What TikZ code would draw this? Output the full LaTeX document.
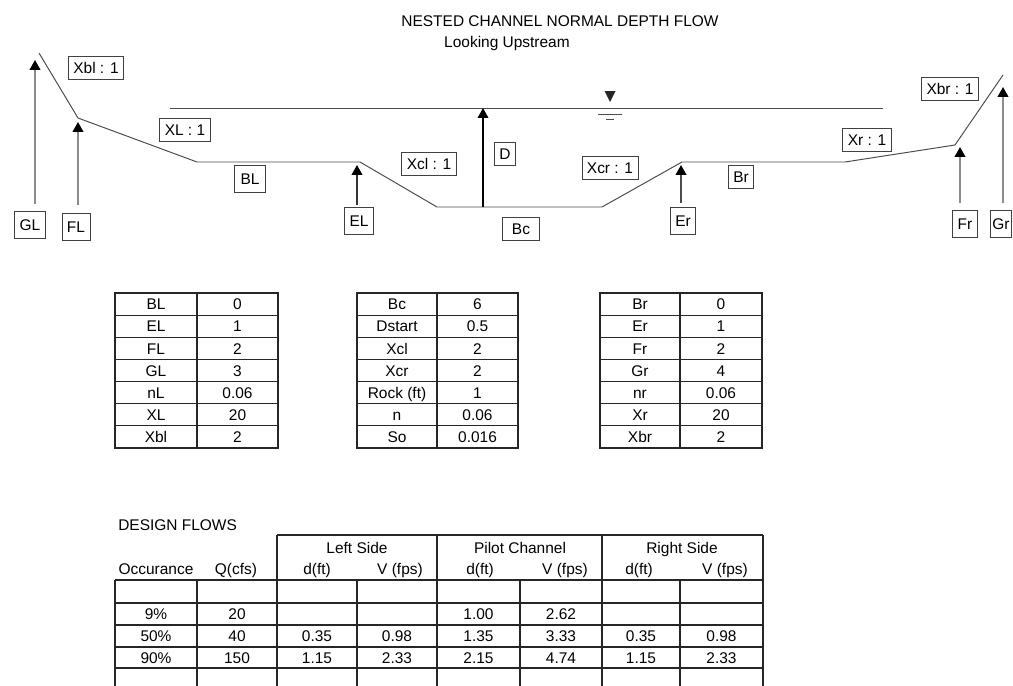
\documentclass[tikz,border=0pt]{standalone}
\usepackage{fontspec}
\setmainfont{Liberation Sans}
\usepackage{tikz}
\usetikzlibrary{arrows.meta}

\tikzset{
	txt/.style={inner sep=0pt, text height=8pt, text depth=0pt, font=\fontsize{11}{13}\selectfont},
	lbl/.style={txt, draw=black!75, line width=0.6pt, fill=white, inner xsep=3.5pt, minimum height=16pt},
	tag/.style={lbl, minimum height=19pt},
	ground/.style={draw=black!70, line width=0.7pt},
	up/.style={-{Triangle[width=7.5pt,length=7pt,color=black]}, line width=1.3pt},
	grid/.style={draw=black!85, line width=0.8pt}
}

\begin{document}
\begin{tikzpicture}[x=0.025cm, y=-0.025cm]
	\useasboundingbox (0,0) rectangle (1013,685);
	
	\node[txt] (title) at (560,21) {NESTED CHANNEL NORMAL DEPTH FLOW};
	\node[txt] (sub) at (507,42) {Looking Upstream};
	
	\coordinate (p1) at (39,53);
	\coordinate (p2) at (78,118);
	\coordinate (p3) at (197,162);
	\coordinate (p4) at (360,162);
	\coordinate (p5) at (437,207);
	\coordinate (p6) at (602,207);
	\coordinate (p7) at (682,162);
	\coordinate (p8) at (845,162);
	\coordinate (p9) at (955,145);
	\coordinate (p10) at (1003,75);
	\coordinate (w1) at (170,108);
	\coordinate (w2) at (883,108);
	
	\path[ground] (p1) -- (p2) -- (p3) -- (p4) -- (p5) -- (p6) -- (p7) -- (p8) -- (p9) -- (p10);
	\path[ground] (w1) -- (w2);
	
	\fill[black!85] (604.5,91) -- (615.5,91) -- (610,102) -- cycle;
	\draw[black!70] (598,114) -- (622,114);
	\draw[black!70] (606,119) -- (614,119);
	
	\node[lbl] (Xbl) at (96,68) {Xbl : 1};
	\node[lbl] (XL) at (185,130) {XL : 1};
	\node[lbl, minimum width=22pt, minimum height=19pt] (BL) at (250,179) {BL};
	\node[lbl] (Xcl) at (429,164) {Xcl : 1};
	\node[lbl] (D) at (505,154) {D};
	\node[lbl, minimum width=26pt] (Bc) at (521,229) {Bc};
	\node[lbl] (Xcr) at (610,168) {Xcr : 1};
	\node[lbl] (Br) at (741,177) {Br};
	\node[lbl] (Xr) at (867,140) {Xr : 1};
	\node[lbl] (Xbr) at (950,89) {Xbr : 1};
	
	\node[tag] (GL) at (30,225) {GL};
	\node[tag] (FL) at (76,227) {FL};
	\node[tag] (EL) at (359,221) {EL};
	\node[tag] (Er) at (683,221) {Er};
	\node[tag] (Fr) at (965,224) {Fr};
	\node[tag, inner xsep=1.5pt] (Gr) at (1001,224) {Gr};
	
	\coordinate (aGL) at (35,60);
	\coordinate (aFL) at (78,122);
	\coordinate (aEL) at (357,165);
	\coordinate (aD) at (483,108);
	\coordinate (dB) at (483,207);
	\coordinate (aEr) at (681,165);
	\coordinate (aFr) at (960,147);
	\coordinate (aGr) at (1003,87);
	
	\draw[up, black!45, shorten <=5pt] (aGL |- GL.north) -- (aGL);
	\draw[up, black!45, shorten <=5.5pt] (aFL |- FL.north) -- (aFL);
	\draw[up, black!80, shorten <=1.5pt] (aEL |- EL.north) -- (aEL);
	\draw[up, black, line width=0.9pt] (dB) -- (aD);
	\draw[up, black!70, shorten <=3pt] (aEr |- Er.north) -- (aEr);
	\draw[up, black!45, shorten <=5pt] (aFr |- Fr.north) -- (aFr);
	\draw[up, black!45, shorten <=5pt] (aGr |- Gr.north) -- (aGr);
	
	\foreach \n/\v [count=\i] in {BL/0, EL/1, FL/2, GL/3, nL/0.06, XL/20, Xbl/2} {
		\node[txt] (ln\i) at (156,282+22.14*\i) {\n};
		\node[txt] (lv\i) at (237.5,282+22.14*\i) {\v};
	}
	\foreach \n/\v [count=\i] in {Bc/6, Dstart/0.5, Xcl/2, Xcr/2, Rock (ft)/1, n/0.06, So/0.016} {
		\node[txt] (cn\i) at (397,282+22.14*\i) {\n};
		\node[txt] (cv\i) at (477.5,282+22.14*\i) {\v};
	}
	\foreach \n/\v [count=\i] in {Br/0, Er/1, Fr/2, Gr/4, nr/0.06, Xr/20, Xbr/2} {
		\node[txt] (rn\i) at (640,282+22.14*\i) {\n};
		\node[txt] (rv\i) at (721,282+22.14*\i) {\v};
	}
	\foreach \a/\b/\c in {115/197/278, 357/437/518, 600/680/762} {
		\draw[grid] (\a,293) rectangle (\c,448);
		\draw[grid] (\b,293) -- (\b,448);
		\foreach \i in {1,...,6}
			\draw[grid] (\a,293+22.14*\i) -- (\c,293+22.14*\i);
	}
	
	\node[txt, anchor=west] (design) at (118,525) {DESIGN FLOWS};
	\node[txt] (left) at (357,548) {Left Side};
	\node[txt] (pilot) at (520,548) {Pilot Channel};
	\node[txt] (right) at (682,548) {Right Side};
	\node[txt] (occ) at (156,569) {Occurance};
	\node[txt] (q) at (236,569) {Q(cfs)};
	\node[txt] (ld) at (317,569) {d(ft)};
	\node[txt] (lv) at (400,569) {V (fps)};
	\node[txt] (pd) at (480,569) {d(ft)};
	\node[txt] (pv) at (565,569) {V (fps)};
	\node[txt] (rd) at (639,569) {d(ft)};
	\node[txt] (rv) at (725,569) {V (fps)};
	
	\draw[grid] (277,535) -- (763,535);
	\foreach \x in {277,437,602,763}
		\draw[grid] (\x,535) -- (\x,580);
	\draw[grid, line width=1.3pt] (115,580) -- (763,580);
	\foreach \y in {603,625,647,668}
		\draw[grid] (115,\y) -- (763,\y);
	\foreach \x in {115,197,277,357,437,520,602,680,763}
		\draw[grid] (\x,580) -- (\x,690);
	
	\foreach \o/\q/\a/\b/\c/\d/\e/\f [count=\r] in {9\%/20/{}/{}/1.00/2.62/{}/{}, 50\%/40/0.35/0.98/1.35/3.33/0.35/0.98, 90\%/150/1.15/2.33/2.15/4.74/1.15/2.33} {
		\node[txt] (fo\r) at (156,592+22*\r) {\o};
		\node[txt] (fq\r) at (237,592+22*\r) {\q};
		\node[txt] (fa\r) at (317,592+22*\r) {\a};
		\node[txt] (fb\r) at (397,592+22*\r) {\b};
		\node[txt] (fc\r) at (478.5,592+22*\r) {\c};
		\node[txt] (fd\r) at (561,592+22*\r) {\d};
		\node[txt] (fe\r) at (641,592+22*\r) {\e};
		\node[txt] (ff\r) at (721.5,592+22*\r) {\f};
	}
\end{tikzpicture}
\end{document}
